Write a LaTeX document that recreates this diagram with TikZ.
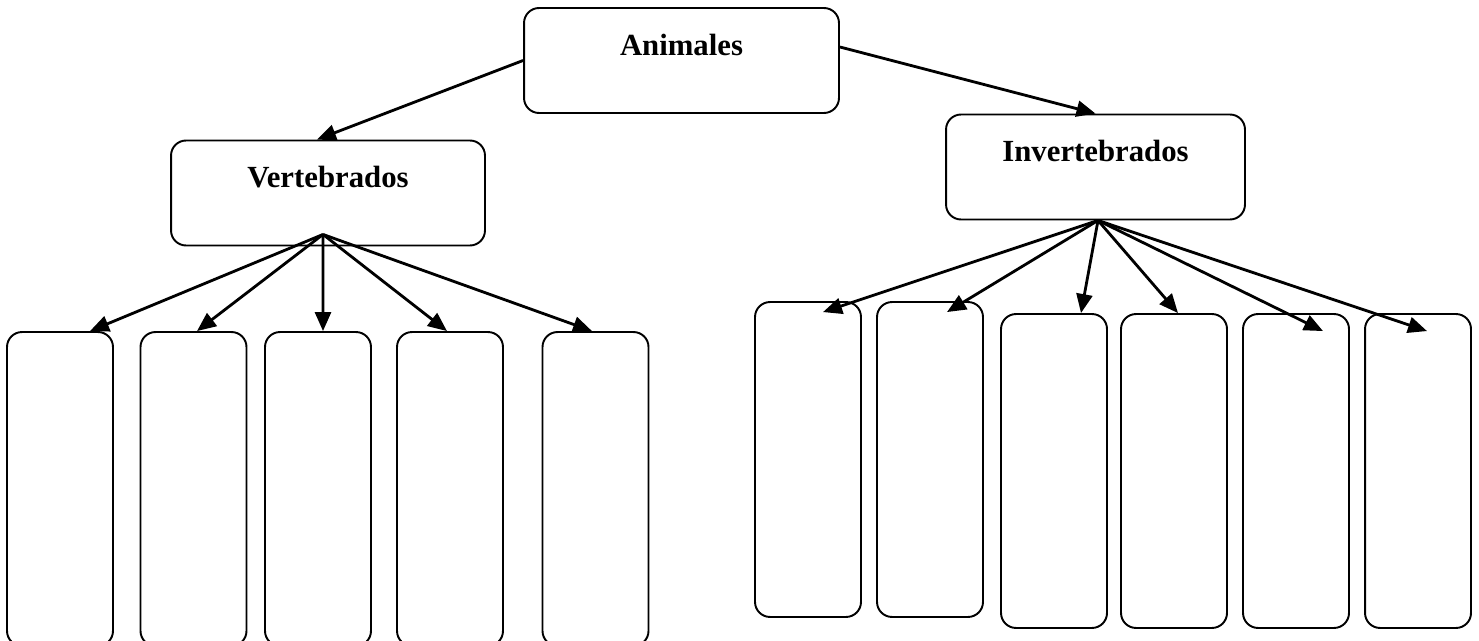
\documentclass[tikz,border=0pt]{standalone}
\usepackage{fontspec}
\setmainfont{Liberation Serif}
\usetikzlibrary{arrows.meta}
\tikzset{
    topbox/.style={draw, line width=1.1pt, rounded corners=0.3cm, inner sep=0pt, minimum height=2.1cm},
    leafbox/.style={topbox, minimum width=2.12cm, minimum height=6.28cm},
    heading/.style={yshift=0.32cm, font=\fontsize{17.5}{20}\selectfont\bfseries},
    link/.style={line width=1.6pt, -{Triangle[length=0.38cm,width=0.32cm]}}
}
\begin{document}
\begin{tikzpicture}[x=0.02cm, y=-0.02cm]
    \useasboundingbox (0,0) rectangle (1479,641);
    \node[topbox, minimum width=6.3cm, label={[heading]center:Animales}] (animales) at (681.5,60.5) {};
    \node[topbox, minimum width=6.28cm, label={[heading]center:Vertebrados}] (vert) at (328,193) {};
    \node[topbox, minimum width=5.98cm, label={[heading]center:Invertebrados}] (invert) at (1095.5,167) {};
    \draw[link] (animales.west) -- ([xshift=-0.22cm]vert.north);
    \draw[link] ([yshift=0.27cm]animales.east) -- (invert.north);
    \coordinate (vhub) at ([xshift=-0.1cm, yshift=0.24cm]vert.south);
    \coordinate (ihub) at ([xshift=0.05cm]invert.south);
    % vertebrados
    \foreach \x [count=\i] in {60,193.5,318,450,595.5}
        \node[leafbox] (v\i) at (\x,489) {};
    \foreach \i/\dx in {1/0.6,2/0.07,3/0.1,4/-0.06,5/-0.07}
        \draw[link] (vhub) -- ([xshift=\dx cm]v\i.north);
    % invertebrados
    \foreach \x [count=\i] in {808,930}
        \node[leafbox, minimum height=6.3cm] (i\i) at (\x,459.5) {};
    \foreach \x [count=\i from 3] in {1054,1174,1296,1418}
        \node[leafbox] (i\i) at (\x,471) {};
    \foreach \i/\dx/\dy in {1/0.3/-0.22,2/0.34/-0.22,3/0.54/0,4/0.08/0,5/0.54/-0.36,6/0.18/-0.36}
        \draw[link] (ihub) -- ([xshift=\dx cm, yshift=\dy cm]i\i.north);
\end{tikzpicture}
\end{document}
